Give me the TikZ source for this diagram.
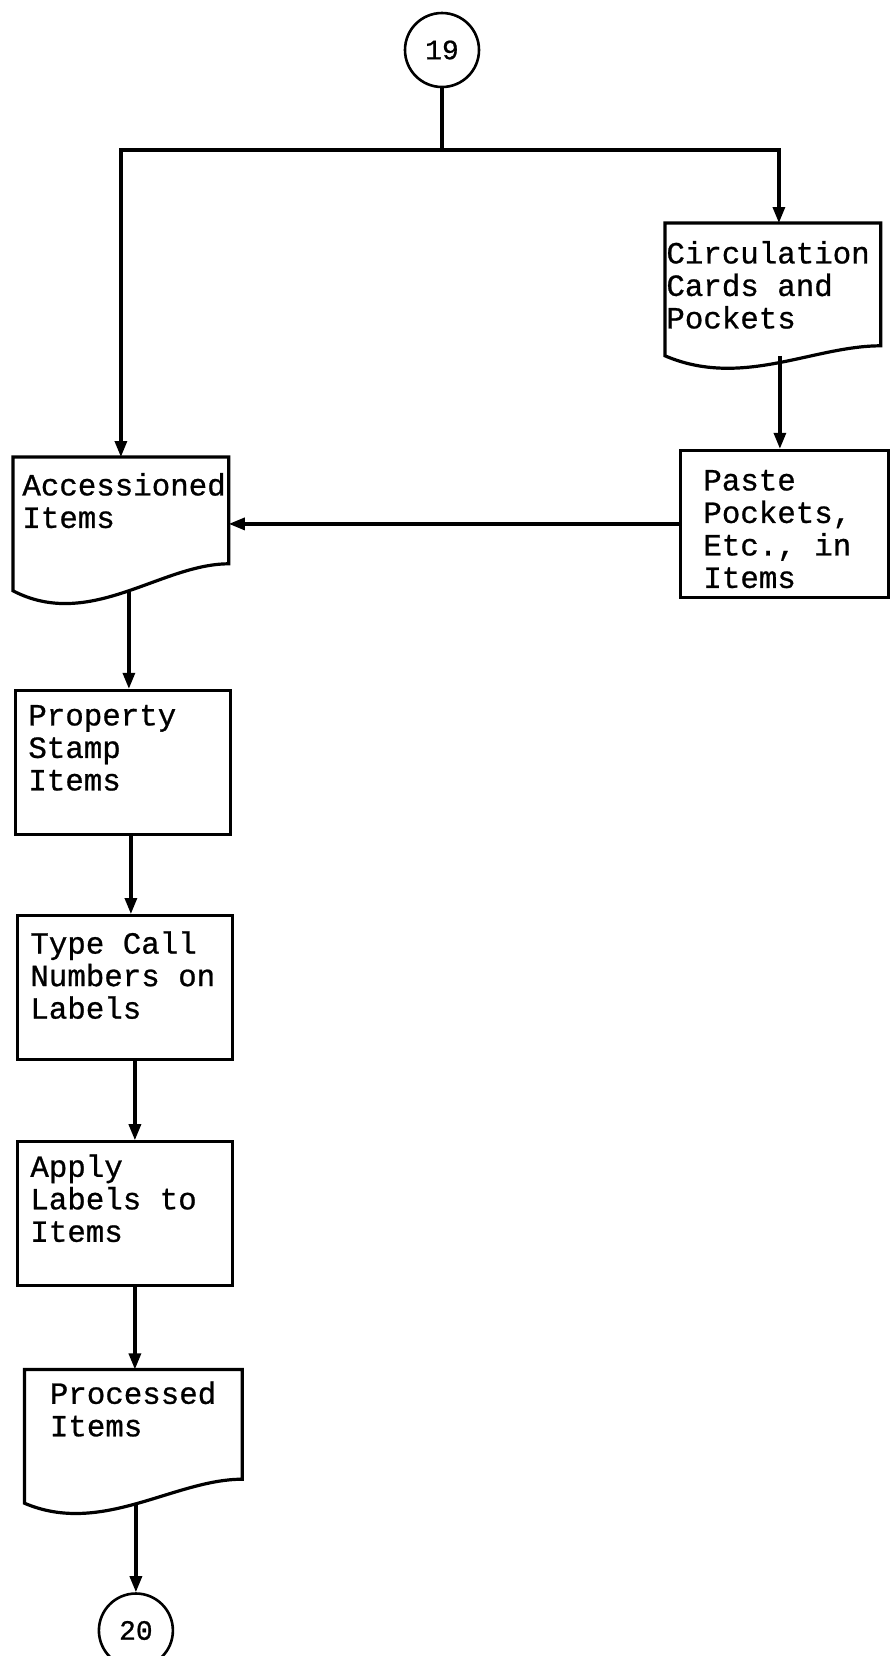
\documentclass[tikz,border=0pt]{standalone}
\usepackage{fontspec}
\setmonofont{Liberation Mono}[FakeBold=0.8]
\usetikzlibrary{positioning,arrows.meta}
\newcommand{\boxfont}{\ttfamily\fontsize{15.4}{16.25}\selectfont}

\begin{document}
\begin{tikzpicture}[
    x=0.5pt, y=-0.5pt,
    every node/.style={font=\boxfont},
    procbox/.style={
      draw,
      line width=1.6pt,
      align=left,
      execute at begin node={\spaceskip=9.24pt\relax},
      inner ysep=0pt,
      inner xsep=6.5pt,
      text width=94.5pt,
      text height=18pt,
      text depth=54pt
    },
    docbox/.style={
      align=left,
      execute at begin node={\spaceskip=9.24pt\relax},
      inner ysep=0pt,
      inner xsep=4.5pt,
      text width=98.5pt,
      text height=19pt,
      text depth=47.5pt
    },
    conn/.style={
      circle,
      draw,
      line width=1.3pt,
      minimum size=37pt,
      inner sep=0pt,
      font=\ttfamily\fontsize{14}{15}\selectfont
    },
    link/.style={line width=1.6pt},
    flow/.style={link,-{Triangle[length=8pt,width=6pt]}}
  ]

  \useasboundingbox (0,0) rectangle (890,1656);

  \node[conn] (c19) at (442,50) {19};

  % right column
  \node[docbox,anchor=north west,inner xsep=0.5pt,text width=106.5pt,
    text height=20pt,text depth=46pt] (circ) at (665,223)
  {Circulation\\Cards and\\Pockets};

  \node[procbox,below=46.5pt of circ,xshift=5.75pt,inner xsep=11.5pt,
    text width=81pt,text height=20pt,text depth=53.5pt] (paste)
  {Paste\\Pockets,\\Etc., in\\Items};

  % left column
  \node[docbox,anchor=north west] (acc) at (13,457)
  {Accessioned\\Items};

  \node[procbox,below=49pt of acc,xshift=1pt,text height=17.5pt,text depth=54.5pt] (prop)
  {Property\\Stamp\\Items};

  \node[procbox,below=39pt of prop,xshift=1pt,text height=19pt,text depth=53pt] (type)
  {Type Call\\Numbers on\\Labels};

  \node[procbox,below=39.5pt of type,text height=17.5pt,text depth=54.5pt] (apply)
  {Apply\\Labels to\\Items};

  \node[docbox,below=41pt of apply,xshift=4.25pt,inner xsep=12.5pt,
    text width=83.5pt,text height=17pt,text depth=49.5pt] (proc)
  {Processed\\Items};

  \node[conn,below=44.5pt of proc,xshift=1.25pt] (c20) {20};

  % document outlines
  \foreach \n/\r/\d in {acc/13.5pt/20pt,circ/5pt/16.5pt,proc/12pt/16.5pt}
    \draw[link] (\n.north west) -- (\n.north east) -- ([yshift=\r]\n.south east)
      .. controls +(-34pt,0pt) and +(38.5pt,-\d) .. (\n.south west) -- cycle;

  \coordinate (split) at (442,150);

  \draw[link] (c19) -- (split);
  \draw[flow] (split) -| (acc.north);
  \draw[flow] (split) -| ([xshift=3pt]circ.north);
  \draw[flow] ([xshift=3.5pt]circ.south) -- ([xshift=3.5pt]circ.south |- paste.north);
  \draw[flow] (paste.west) -- (paste.west -| acc.east);
  \draw[flow] ([xshift=4pt]acc.south) -- ([xshift=4pt]acc.south |- prop.north);
  \draw[flow] ([xshift=4pt]prop.south) -- ([xshift=4pt]prop.south |- type.north);
  \draw[flow] ([xshift=5pt]type.south) -- ([xshift=5pt]type.south |- apply.north);
  \draw[flow] ([xshift=5pt]apply.south) -- ([xshift=5pt]apply.south |- proc.north);
  \draw[flow] (c20.north |- proc.south) -- (c20.north);

\end{tikzpicture}
\end{document}
